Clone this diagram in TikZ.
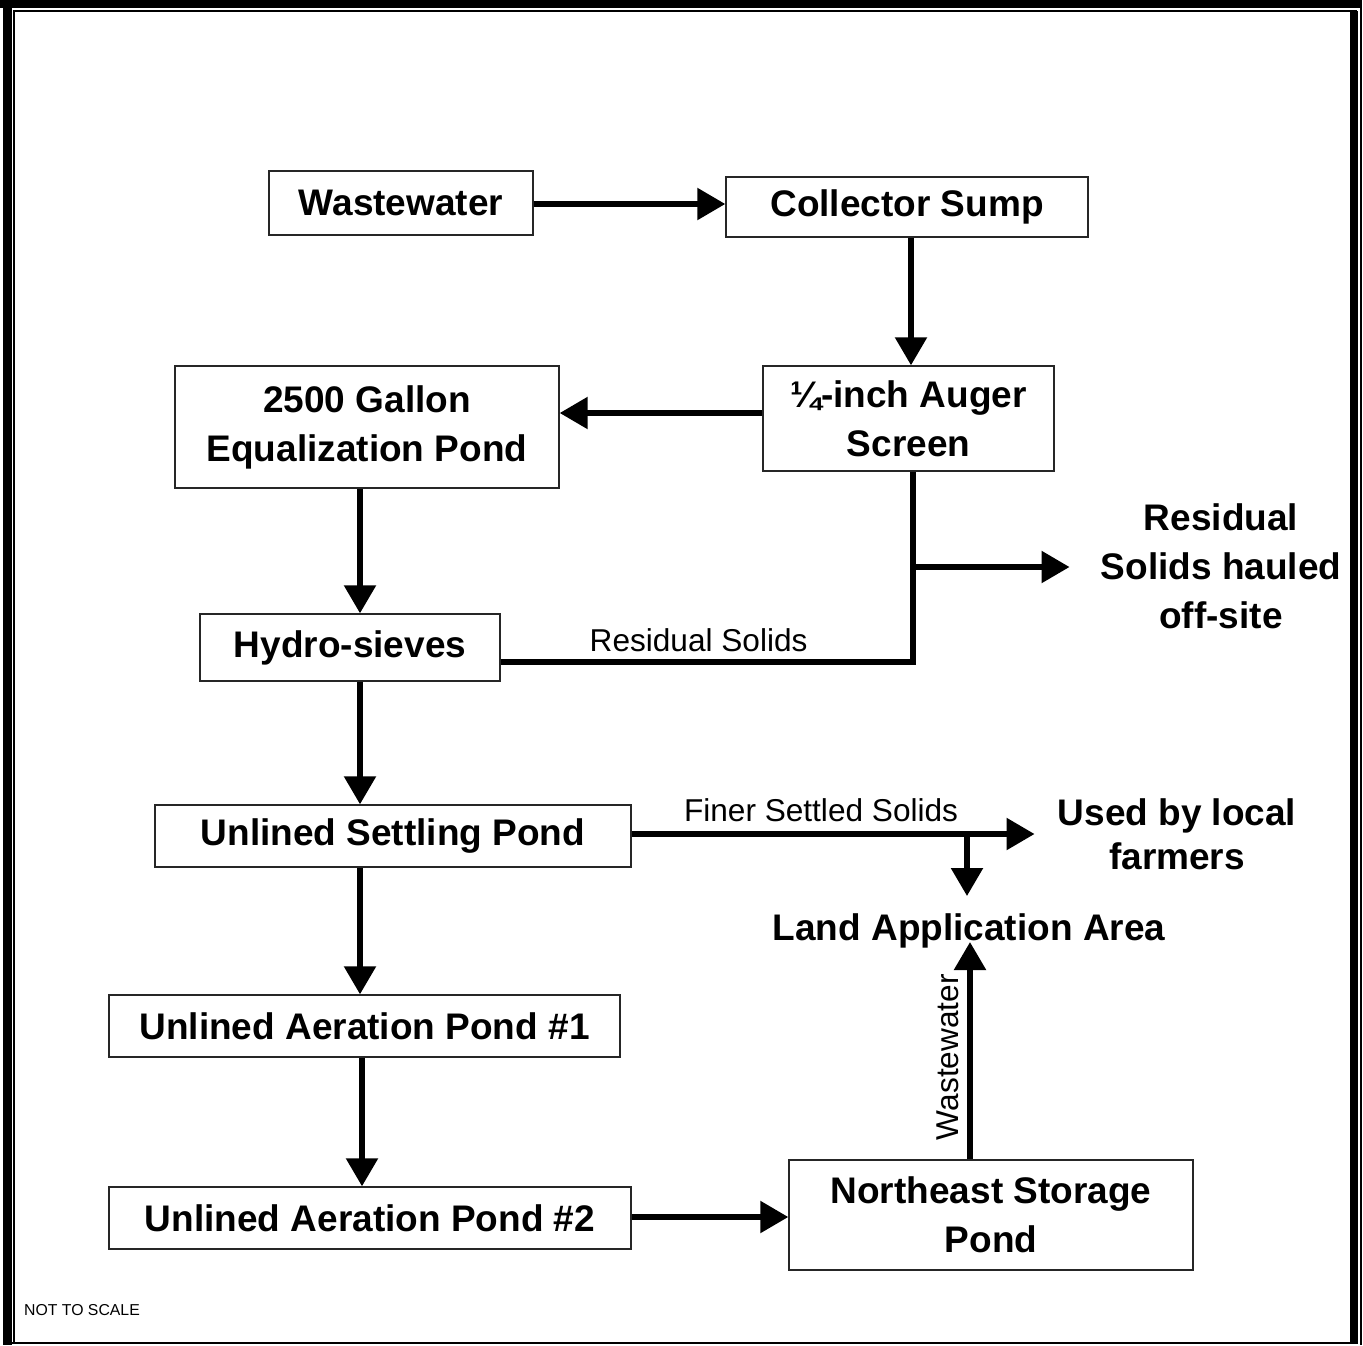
\documentclass[tikz,border=0pt]{standalone}
\usepackage{fontspec}
\setmainfont{Liberation Sans}
\usetikzlibrary{arrows.meta}
\begin{document}
\begin{tikzpicture}[x=1pt,y=-1pt,
  box/.style={draw=black!85, line width=1.4pt, rectangle, inner sep=0pt, align=center,
              font=\fontsize{37}{49}\selectfont\bfseries},
  lbl/.style={inner sep=0pt, align=center, font=\fontsize{37}{49}\selectfont\bfseries},
  small/.style={inner sep=0pt, font=\fontsize{31.6}{36}\selectfont},
  flow/.style={line width=5.5pt},
  arr/.style={line width=5.5pt, -{Triangle[length=28pt,width=31pt]}}]
\useasboundingbox (0,0) rectangle (1363,1345);
% frame
\fill[black] (0,0) rectangle (1362,8);
\fill[black] (3,0) rectangle (12,1345);
\fill[black] (1350,11) rectangle (1358,1344);
\draw[line width=2pt] (14,1344) -- (14,10.5) -- (1357,10.5);
\draw[line width=2pt] (1361,8) -- (1361,1345);
\draw[line width=2pt] (12,1343) -- (1350,1343);
% boxes
\node[box, minimum width=264pt, minimum height=64pt] (ww) at (401,203) {Wastewater};
\node[box, minimum width=362pt, minimum height=60pt] (cs) at (907,207) {\raisebox{-3pt}{Collector Sump}};
\node[box, minimum width=291pt, minimum height=105pt] (aug) at (908.5,418.5) {¼-inch Auger\\Screen};
\node[box, minimum width=384pt, minimum height=122pt] (eq) at (367,427) {2500 Gallon\\Equalization Pond};
\node[box, minimum width=300pt, minimum height=67pt] (hs) at (350,647.5) {\raisebox{-2pt}{Hydro-sieves}};
\node[box, minimum width=476pt, minimum height=62pt] (sp) at (393,836) {\raisebox{-2pt}{Unlined Settling Pond}};
\node[box, minimum width=511pt, minimum height=62pt] (a1) at (364.5,1026) {\raisebox{-1pt}{Unlined Aeration Pond \#1}};
\node[box, minimum width=522pt, minimum height=62pt] (a2) at (370,1218) {\raisebox{-1pt}{Unlined Aeration Pond \#2}};
\node[box, minimum width=404pt, minimum height=110pt] (ne) at (991,1215) {Northeast Storage\\Pond};
% text nodes
\node[lbl] (rs) at (1221,566) {Residual\\Solids hauled\\off-site};
\node[lbl, font=\fontsize{37}{44}\selectfont\bfseries] (fm) at (1177,834) {Used by local\\farmers};
\node[lbl] (land) at (969,931) {Land Application Area};
\node[inner sep=0pt, font=\fontsize{15.8}{18}\selectfont] (nts) at (82,1310) {NOT TO SCALE};
% coordinates
\coordinate (rj) at (913,662);
\coordinate (rb) at (913,567);
\coordinate (fb) at (967,834);
\coordinate (landtop) at ([yshift=35pt]land.center);
\coordinate (landbot) at ([yshift=-11pt]land.center);
% connectors
\draw[arr] (ww.east |- 0,204) -- (cs.west |- 0,204);
\draw[arr] (cs.south -| 911,0) -- (aug.north -| 911,0);
\draw[arr] (aug.west |- 0,413) -- (eq.east |- 0,413);
\draw[arr] ([xshift=-7pt]eq.south) -- ([xshift=-7pt]eq.south |- hs.north);
\draw[flow, line join=miter] (hs.east |- rj) -- node[small, above=7pt, pos=0.48] (rsl) {Residual Solids} (rj) -- (rj |- aug.south);
\draw[arr] (rb) -- ([xshift=-31pt]rb -| rs.west);
\draw[arr] ([xshift=10pt]hs.south) -- ([xshift=10pt]hs.south |- sp.north);
\draw[arr] (sp.east |- 0,834) -- node[small, above=9pt, pos=0.47] (fss) {Finer Settled Solids} ([xshift=-23pt]fb -| fm.west);
\draw[arr] (fb) -- (fb |- landtop);
\draw[arr] ([xshift=-33pt]sp.south) -- ([xshift=-33pt]sp.south |- a1.north);
\draw[arr] ([xshift=-2.5pt]a1.south) -- ([xshift=-2.5pt]a1.south |- a2.north);
\draw[arr] (a2.east |- 0,1217) -- (ne.west |- 0,1217);
\draw[arr] ([xshift=-21pt]ne.north) -- node[small, sloped, above=8pt, pos=0.47] (wwl) {Wastewater} ([xshift=-21pt]ne.north |- landbot);
\end{tikzpicture}
\end{document}
